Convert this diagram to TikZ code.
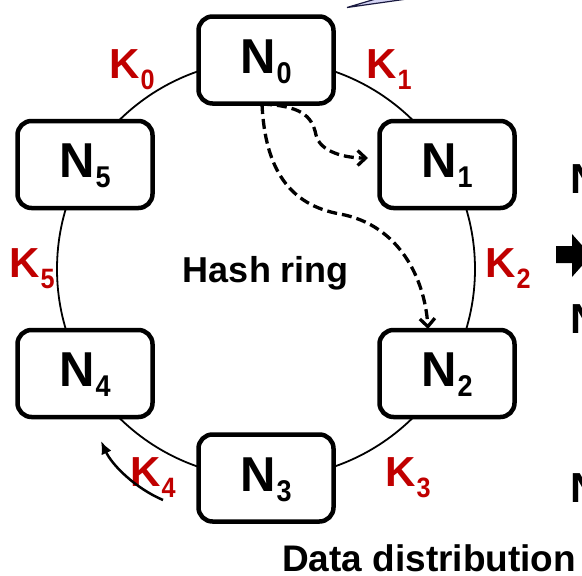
\documentclass[tikz,border=0pt]{standalone}
\usepackage{fontspec}
\setmainfont{Liberation Sans}
\usetikzlibrary{arrows.meta}
\definecolor{kred}{HTML}{C00000}
\definecolor{tailfill}{HTML}{D4D4F4}
\definecolor{tailline}{HTML}{1A1A40}
\newcommand{\mynlab}[1]{N\kern1pt\raisebox{-10pt}{\fontsize{30}{30}\selectfont\scalebox{0.9}[1]{#1}}}
\newcommand{\myklab}[1]{K\kern1pt\raisebox{-11pt}{\fontsize{28}{28}\selectfont\scalebox{0.9}[1]{#1}}}
\tikzset{
  nbox/.style={draw, line width=4.5pt, rounded corners=14pt, fill=white,
    minimum width=135pt, minimum height=87pt, inner sep=0pt},
  ntext/.style={anchor=base, inner sep=0pt, font=\fontsize{49}{49}\selectfont\bfseries},
  klabel/.style={anchor=base west, inner sep=0pt, text=kred, font=\fontsize{42}{42}\selectfont\bfseries},
  ring/.style={line width=1.8pt},
  dasharrow/.style={line width=3.3pt, dash pattern=on 10pt off 5pt,
    -{Straight Barb[length=8pt,width=15pt]}},
  movearrow/.style={line width=2.5pt, -{Latex[length=13pt,width=11pt]}},
}
\begin{document}
\begin{tikzpicture}[x=1pt,y=-1pt]
\useasboundingbox (0,0) rectangle (582,576);
\clip (0,0) rectangle (582,576);
% callout tail at top
\filldraw[fill=tailfill, draw=tailline, line width=1.2pt]
  (347,7.5) -- (379,-2) -- (414,-2) -- cycle;
% ring
\coordinate (c) at (266,269);
\draw[ring] (c) circle[radius=209pt];
% nodes
\node[nbox] (n0) at (266,60) {};
\node[nbox] (n1) at (447,164.5) {};
\node[nbox] (n2) at (447,373.5) {};
\node[nbox] (n3) at (266,478) {};
\node[nbox] (n4) at (85,373.5) {};
\node[nbox] (n5) at (85,164.5) {};
\node[ntext] (t0) at ([yshift=-13pt]n0.center) {\mynlab{0}};
\node[ntext] (t1) at ([yshift=-13pt]n1.center) {\mynlab{1}};
\node[ntext] (t2) at ([yshift=-13pt]n2.center) {\mynlab{2}};
\node[ntext] (t3) at ([yshift=-13pt]n3.center) {\mynlab{3}};
\node[ntext] (t4) at ([yshift=-13pt]n4.center) {\mynlab{4}};
\node[ntext] (t5) at ([yshift=-13pt]n5.center) {\mynlab{5}};
% key labels
\node[klabel] (k0) at (109,78) {\myklab{0}};
\node[klabel] (k1) at (366,78) {\myklab{1}};
\node[klabel] (k2) at (485,277) {\myklab{2}};
\node[klabel] (k3) at (385,486) {\myklab{3}};
\node[klabel] (k4) at (130,486) {\myklab{4}};
\node[klabel] (k5) at (9,277) {\myklab{5}};
% center text
\node[anchor=base, inner sep=0pt, font=\fontsize{36}{36}\selectfont\bfseries] (hr) at (266,282) {Hash ring};
\node[anchor=base west, inner sep=0pt, font=\fontsize{37}{37}\selectfont\bfseries] (dd) at (282,571) {Data distribution};
% dashed replication arrows
\coordinate (s0) at (262,104);
\coordinate (e1) at (368,158);
\coordinate (e2) at (428,329);
\draw[dasharrow] (s0) .. controls (300,106) and (312,115) .. (316,135)
  .. controls (320,152) and (345,158) .. (e1);
\draw[dasharrow] (s0) .. controls (265,170) and (290,205) .. (340,214)
  .. controls (400,225) and (425,280) .. (e2);
% movement arrow near K4
\coordinate (m0) at (163,500);
\coordinate (m1) at (101,441);
\draw[movearrow] (m0) .. controls (135,488) and (112,465) .. (m1);
% block arrow at right
\fill (556,246) -- (572,246) -- (572,234) -- (591,255.5) -- (572,277)
  -- (572,263) -- (556,263) -- cycle;
% cut-off labels at right edge
\node[anchor=base west, inner sep=0pt, font=\fontsize{42}{42}\selectfont\bfseries] (r1) at (570,193) {N};
\node[anchor=base west, inner sep=0pt, font=\fontsize{42}{42}\selectfont\bfseries] (r2) at (570,333) {N};
\node[anchor=base west, inner sep=0pt, font=\fontsize{42}{42}\selectfont\bfseries] (r3) at (570,502) {N};
\end{tikzpicture}
\end{document}
